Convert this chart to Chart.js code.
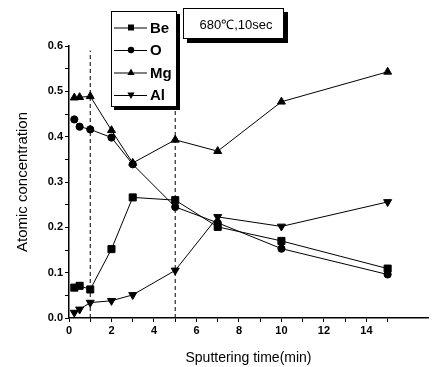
<!DOCTYPE html>
<html>
<head>
<meta charset="utf-8">
<script src="https://cdn.jsdelivr.net/npm/chart.js@4"></script>
<style>
  html, body { margin: 0; padding: 0; background: #fff; }
  #wrap { width: 434px; height: 367px; position: relative; }
</style>
</head>
<body>
<div id="wrap"><canvas id="depthChart" width="434" height="367"></canvas></div>
<script>
// sputtering time (min)
const times = [0.25, 0.5, 1, 2, 3, 5, 7, 10, 15];

// atomic concentration per element
const beValues = [0.067, 0.071, 0.063, 0.152, 0.266, 0.260, 0.201, 0.170, 0.109];
const oValues  = [0.438, 0.422, 0.416, 0.398, 0.339, 0.245, 0.210, 0.153, 0.096];
const mgValues = [0.486, 0.487, 0.489, 0.414, 0.342, 0.393, 0.368, 0.477, 0.543];
const alValues = [0.012, 0.019, 0.034, 0.038, 0.051, 0.105, 0.223, 0.202, 0.256];

const elements = ['Be', 'O', 'Mg', 'Al'];
const markerStyles = ['rect', 'circle', 'triangle', 'triangle'];
const markerRotations = [0, 0, 0, 180];
const markerRadii = [5, 3.6, 4.6, 4.6];

// dashed guides
const guideTimes = [1, 5];
const guideTop = 0.59;

const annotationText = '680\u2103,10sec';

const seriesValues = [beValues, oValues, mgValues, alValues];

function toPoints(values) {
    return times.map((t, i) => ({ x: t, y: values[i] }));
}

const datasets = elements.map((name, i) => ({
    label: name,
    data: toPoints(seriesValues[i]),
    borderColor: '#000',
    backgroundColor: '#000',
    borderWidth: 1,
    pointStyle: markerStyles[i],
    rotation: markerRotations[i],
    pointRadius: markerRadii[i],
    pointBorderWidth: 1,
    tension: 0
}));

guideTimes.forEach(t => {
    datasets.push({
        label: 'guide',
        data: [{ x: t, y: 0 }, { x: t, y: guideTop }],
        borderColor: '#000',
        borderWidth: 1,
        borderDash: [4, 3],
        pointRadius: 0
    });
});

function drawMarker(ctx, style, rotation, x, y, r) {
    ctx.save();
    ctx.translate(x, y);
    ctx.rotate(rotation * Math.PI / 180);
    ctx.beginPath();
    if (style === 'rect') {
        ctx.rect(-r * 0.75, -r * 0.75, r * 1.5, r * 1.5);
    } else if (style === 'circle') {
        ctx.arc(0, 0, r * 0.8, 0, Math.PI * 2);
    } else {
        ctx.moveTo(0, -r);
        ctx.lineTo(r * 0.9, r * 0.6);
        ctx.lineTo(-r * 0.9, r * 0.6);
        ctx.closePath();
    }
    ctx.fill();
    ctx.restore();
}

function shadowBox(ctx, x, y, w, h, off) {
    ctx.fillStyle = '#000';
    ctx.fillRect(x + off, y + off, w, h);
    ctx.fillStyle = '#fff';
    ctx.fillRect(x, y, w, h);
    ctx.strokeStyle = '#000';
    ctx.lineWidth = 1;
    ctx.strokeRect(x + 0.5, y + 0.5, w - 1, h - 1);
}

const boxesPlugin = {
    id: 'boxes',
    afterDraw(chart) {
        const ctx = chart.ctx;
        ctx.save();

        // legend box
        shadowBox(ctx, 111, 11, 66, 96, 3);
        const rowY = [27.5, 50, 72.5, 95];
        ctx.font = 'bold 15px "Liberation Sans", Arial, sans-serif';
        ctx.textBaseline = 'middle';
        elements.forEach((name, i) => {
            const y = rowY[i];
            ctx.strokeStyle = '#000';
            ctx.lineWidth = 1;
            ctx.beginPath();
            ctx.moveTo(114, y + 0.5);
            ctx.lineTo(147, y + 0.5);
            ctx.stroke();
            ctx.fillStyle = '#000';
            drawMarker(ctx, markerStyles[i], markerRotations[i], 131, y, 4);
            ctx.fillText(name, 150, y + 1);
        });

        // condition label
        shadowBox(ctx, 183, 8, 101, 31, 4);
        ctx.fillStyle = '#000';
        ctx.font = '13px "Liberation Sans", Arial, sans-serif';
        ctx.textAlign = 'center';
        ctx.fillText(annotationText, 236, 25);

        ctx.restore();
    }
};

const tickFont = { family: '"Liberation Sans", Arial, sans-serif', size: 11, weight: 'bold' };
const titleFont = { family: '"Liberation Sans", Arial, sans-serif', size: 14 };

const ctx = document.getElementById('depthChart').getContext('2d');
const depthChart = new Chart(ctx, {
    type: 'line',
    data: { datasets: datasets },
    plugins: [boxesPlugin],
    options: {
        responsive: false,
        animation: false,
        layout: { padding: { top: 46, right: 0, bottom: 0, left: 0 } },
        plugins: {
            legend: { display: false },
            tooltip: { enabled: false }
        },
        scales: {
            x: {
                type: 'linear',
                min: 0,
                max: 16.9,
                afterBuildTicks: scale => {
                    scale.ticks = scale.ticks.filter(t => Number.isInteger(t.value));
                },
                afterFit: scale => { scale.height = 49; },
                ticks: {
                    stepSize: 1,
                    autoSkip: false,
                    maxRotation: 0,
                    color: '#000',
                    font: tickFont,
                    padding: 2,
                    callback: v => (v % 2 === 0 ? String(v) : '')
                },
                grid: {
                    drawOnChartArea: false,
                    drawTicks: true,
                    tickLength: 4,
                    color: '#000'
                },
                border: { display: true, color: '#000', width: 1.5 },
                title: {
                    display: true,
                    text: 'Sputtering time(min)',
                    color: '#000',
                    font: titleFont,
                    padding: { top: 10, bottom: 0 }
                }
            },
            y: {
                type: 'linear',
                min: 0,
                max: 0.6,
                afterFit: scale => { scale.width = 69; },
                ticks: {
                    stepSize: 0.05,
                    autoSkip: false,
                    color: '#000',
                    font: tickFont,
                    padding: 2,
                    callback: v => (Math.round(v * 100) % 10 === 0 ? v.toFixed(1) : '')
                },
                grid: {
                    drawOnChartArea: false,
                    drawTicks: true,
                    tickLength: 4,
                    color: '#000'
                },
                border: { display: true, color: '#000', width: 1.5 },
                title: {
                    display: true,
                    text: 'Atomic concentration',
                    color: '#000',
                    font: { family: '"Liberation Sans", Arial, sans-serif', size: 15 },
                    padding: { top: 14, bottom: 0 }
                }
            }
        }
    }
});
</script>
</body>
</html>
